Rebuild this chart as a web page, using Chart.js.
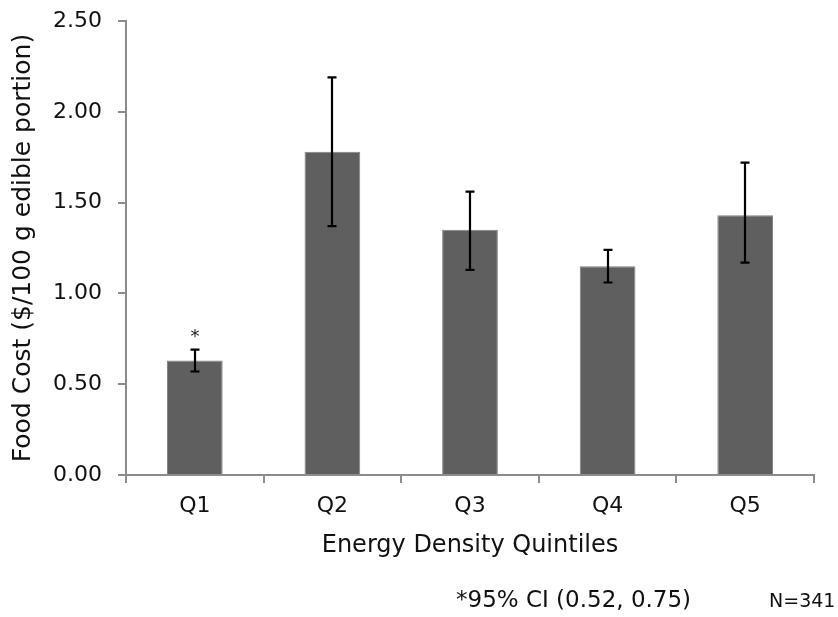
<!DOCTYPE html>
<html>
<head>
<meta charset="utf-8">
<script src="https://cdn.jsdelivr.net/npm/chart.js@4/dist/chart.umd.min.js"></script>
<style>
html,body{margin:0;padding:0;background:#fff;}
#c{display:block;}
</style>
</head>
<body>
<canvas id="c" width="838" height="617"></canvas>
<script>
const categories = ['Q1', 'Q2', 'Q3', 'Q4', 'Q5'];
const meanCost = [0.63, 1.78, 1.35, 1.15, 1.43];
const ciLower = [0.57, 1.37, 1.13, 1.06, 1.17];
const ciUpper = [0.69, 2.19, 1.56, 1.24, 1.72];
const markers = ['*', '', '', '', ''];
const yTitle = 'Food Cost ($/100 g edible portion)';
const xTitle = 'Energy Density Quintiles';
const footnote = '*95% CI (0.52, 0.75)';
const sampleNote = 'N=341';

const FONT = 'DejaVu Sans, Verdana, sans-serif';
const AXIS = '#8c8c8c';

const errorBars = {
  id: 'errorBars',
  afterDatasetsDraw(chart) {
    const ctx = chart.ctx;
    const y = chart.scales.y;
    const meta = chart.getDatasetMeta(0);
    ctx.save();
    ctx.strokeStyle = '#000';
    ctx.lineWidth = 2.2;
    meta.data.forEach((bar, i) => {
      const x = Math.round(bar.x);
      const yl = y.getPixelForValue(ciLower[i]);
      const yh = y.getPixelForValue(ciUpper[i]);
      ctx.beginPath();
      ctx.moveTo(x, yl); ctx.lineTo(x, yh);
      ctx.moveTo(x - 4.5, yl); ctx.lineTo(x + 4.5, yl);
      ctx.moveTo(x - 4.5, yh); ctx.lineTo(x + 4.5, yh);
      ctx.stroke();
      if (markers[i]) {
        ctx.fillStyle = '#222';
        ctx.font = '18px ' + FONT;
        ctx.textAlign = 'center';
        ctx.textBaseline = 'middle';
        ctx.fillText(markers[i], x, yh - 12);
      }
    });
    ctx.restore();
  },
  afterDraw(chart) {
    const ctx = chart.ctx;
    ctx.save();
    ctx.fillStyle = '#111';
    ctx.textBaseline = 'middle';
    ctx.textAlign = 'left';
    ctx.font = '23px ' + FONT;
    ctx.fillText(footnote, 456, 601);
    ctx.font = '19px ' + FONT;
    ctx.fillText(sampleNote, 769, 602);
    ctx.restore();
  }
};

new Chart(document.getElementById('c'), {
  type: 'bar',
  data: {
    labels: categories,
    datasets: [{
      data: meanCost,
      backgroundColor: '#5f5f5f',
      borderColor: '#808080',
      borderWidth: 1,
      categoryPercentage: 1,
      barPercentage: 0.405
    }]
  },
  options: {
    responsive: false,
    animation: false,
    layout: { padding: { left: 0, right: 24, top: 21, bottom: 0 } },
    plugins: { legend: { display: false }, tooltip: { enabled: false } },
    scales: {
      x: {
        afterFit(s) { s.height = 142; s.paddingLeft = 0; s.paddingRight = 0; },
        grid: { drawOnChartArea: false, drawTicks: true, tickLength: 8, color: AXIS, lineWidth: 2, offset: true },
        border: { display: true, color: AXIS, width: 2 },
        ticks: { color: '#111', font: { family: FONT, size: 22 }, padding: 10 },
        title: { display: true, text: xTitle, color: '#111', font: { family: FONT, size: 24 }, padding: { top: 0, bottom: 57 } }
      },
      y: {
        min: 0, max: 2.5,
        afterFit(s) { s.width = 126; s.paddingTop = 0; s.paddingBottom = 0; },
        grid: { drawOnChartArea: false, drawTicks: true, tickLength: 8, color: AXIS, lineWidth: 2 },
        border: { display: true, color: AXIS, width: 2 },
        ticks: { stepSize: 0.5, color: '#111', font: { family: FONT, size: 22 }, padding: 16,
                 callback: v => Number(v).toFixed(2) },
        title: { display: true, text: yTitle, color: '#111', font: { family: FONT, size: 25 }, padding: { top: 8, bottom: 0 } }
      }
    }
  },
  plugins: [errorBars]
});
</script>
</body>
</html>
